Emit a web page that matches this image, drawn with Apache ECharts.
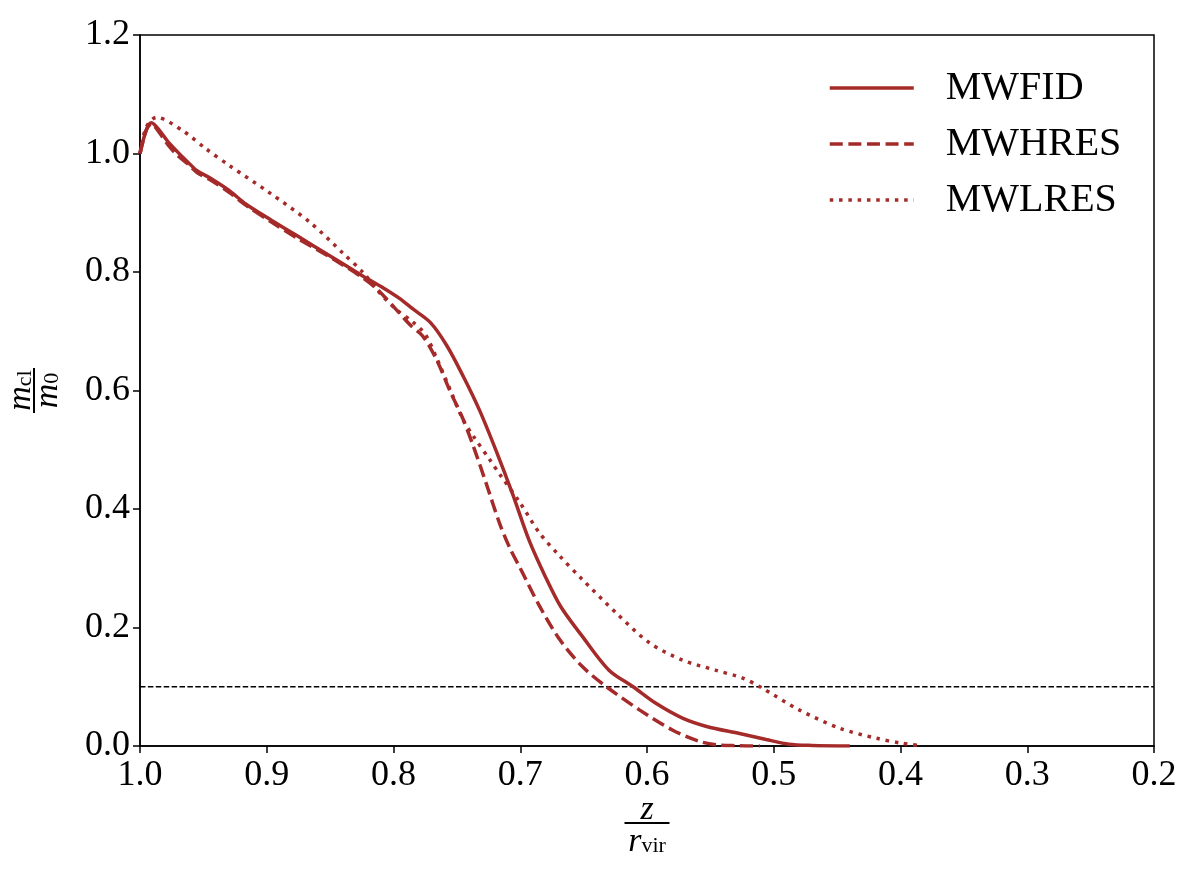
<!DOCTYPE html>
<html>
<head>
<meta charset="utf-8">
<script src="https://cdn.jsdelivr.net/npm/echarts@6/dist/echarts.min.js"></script>
<style>
html, body { margin: 0; padding: 0; background: #fff; }
#chart { width: 1196px; height: 890px; }
</style>
</head>
<body>
<div id="chart"></div>
<script>
var seriesNames = ['MWFID', 'MWHRES', 'MWLRES'];
var xTicks = [1.0, 0.9, 0.8, 0.7, 0.6, 0.5, 0.4, 0.3, 0.2];
var yTicks = [0.0, 0.2, 0.4, 0.6, 0.8, 1.0, 1.2];
var threshold = 0.1;

// MWFID (solid)
var fidX = [1.0, 0.995, 0.991, 0.985, 0.978, 0.971, 0.962, 0.955, 0.945, 0.930, 0.916, 0.896, 0.876, 0.850, 0.824, 0.808, 0.795, 0.785, 0.771, 0.758, 0.745, 0.732, 0.719, 0.706, 0.693, 0.680, 0.668, 0.651, 0.630, 0.611, 0.593, 0.572, 0.553, 0.527, 0.506, 0.488, 0.470, 0.440];
var fidY = [1.0, 1.040, 1.052, 1.040, 1.020, 1.004, 0.985, 0.971, 0.959, 0.938, 0.914, 0.887, 0.861, 0.827, 0.793, 0.773, 0.755, 0.738, 0.715, 0.676, 0.624, 0.566, 0.498, 0.425, 0.347, 0.285, 0.235, 0.185, 0.128, 0.100, 0.072, 0.047, 0.033, 0.021, 0.011, 0.003, 0.001, 0.0];

// MWHRES (dashed)
var hresX = [1.0, 0.995, 0.991, 0.985, 0.978, 0.971, 0.962, 0.955, 0.945, 0.930, 0.916, 0.896, 0.876, 0.850, 0.824, 0.813, 0.798, 0.787, 0.777, 0.766, 0.756, 0.745, 0.737, 0.727, 0.716, 0.708, 0.700, 0.685, 0.669, 0.651, 0.632, 0.606, 0.580, 0.559, 0.545, 0.530, 0.511];
var hresY = [1.0, 1.040, 1.050, 1.036, 1.015, 0.998, 0.982, 0.968, 0.956, 0.935, 0.912, 0.884, 0.857, 0.825, 0.790, 0.771, 0.737, 0.711, 0.692, 0.652, 0.602, 0.551, 0.506, 0.444, 0.374, 0.333, 0.300, 0.237, 0.180, 0.134, 0.100, 0.061, 0.027, 0.008, 0.002, 0.0005, 0.0];

// MWLRES (dotted)
var lresX = [1.0, 0.995, 0.987, 0.966, 0.948, 0.929, 0.898, 0.866, 0.840, 0.824, 0.811, 0.798, 0.785, 0.775, 0.766, 0.756, 0.745, 0.737, 0.724, 0.716, 0.700, 0.685, 0.669, 0.651, 0.624, 0.598, 0.572, 0.546, 0.525, 0.511, 0.480, 0.448, 0.419, 0.400, 0.383];
var lresY = [1.0, 1.045, 1.061, 1.038, 1.008, 0.979, 0.934, 0.884, 0.832, 0.799, 0.765, 0.737, 0.716, 0.695, 0.655, 0.605, 0.550, 0.523, 0.483, 0.458, 0.410, 0.360, 0.321, 0.281, 0.224, 0.174, 0.145, 0.128, 0.115, 0.100, 0.061, 0.030, 0.013, 0.005, 0.0];

var lineColor = '#a52a2a';
var font = 'Liberation Serif';

function pairs(xs, ys) {
    var out = [];
    for (var i = 0; i < xs.length; i++) {
        out.push([xs[i], ys[i]]);
    }
    return out;
}

var chart = echarts.init(document.getElementById('chart'));

// fraction labels: numerator row, bar row, denominator row
var xRich = {
    n: { fontFamily: font, fontStyle: 'italic', fontSize: 34, color: '#000', lineHeight: 22 },
    b: { width: 45, height: 2, backgroundColor: '#000', lineHeight: 4 },
    d: { fontFamily: font, fontStyle: 'italic', fontSize: 34, color: '#000', lineHeight: 36, verticalAlign: 'top' },
    s: { fontFamily: font, fontSize: 22, color: '#000', lineHeight: 36, verticalAlign: 'top', padding: [10, 0, 0, 0] }
};
var yRich = {
    n: { fontFamily: font, fontStyle: 'italic', fontSize: 34, color: '#000', lineHeight: 22 },
    ns: { fontFamily: font, fontSize: 22, color: '#000', lineHeight: 22, padding: [8, 0, 0, 0] },
    b: { width: 45, height: 2, backgroundColor: '#000', lineHeight: 4 },
    d: { fontFamily: font, fontStyle: 'italic', fontSize: 34, color: '#000', lineHeight: 24 },
    ds: { fontFamily: font, fontSize: 22, color: '#000', lineHeight: 24, padding: [8, 0, 0, 0] }
};

var option = {
    backgroundColor: '#fff',
    animation: false,
    grid: {
        left: 140,
        right: 42,
        top: 35,
        bottom: 144,
        containLabel: false,
        outerBoundsMode: 'none',
        show: true,
        borderColor: '#000',
        borderWidth: 1.5,
        backgroundColor: 'transparent'
    },
    legend: {
        orient: 'vertical',
        left: 828,
        top: 68,
        padding: 0,
        itemWidth: 84,
        itemHeight: 14,
        itemGap: 16,
        itemStyle: { opacity: 0 },
        lineStyle: { width: 3.5 },
        data: seriesNames,
        textStyle: {
            fontFamily: font,
            fontSize: 40,
            color: '#000',
            padding: [0, 0, 0, 27],
            lineHeight: 40
        }
    },
    xAxis: {
        type: 'value',
        inverse: true,
        min: xTicks[xTicks.length - 1],
        max: xTicks[0],
        interval: 0.1,
        splitLine: { show: false },
        axisLine: { onZero: false, lineStyle: { color: '#000', width: 1.5 } },
        axisTick: { show: true, length: 7, lineStyle: { color: '#000', width: 1.5 } },
        axisLabel: {
            margin: 12,
            fontFamily: font,
            fontSize: 36,
            color: '#000',
            formatter: function (v) { return v.toFixed(1); }
        },
        name: '{n|z}\n{b| }\n{d|r}{s|vir}',
        nameLocation: 'middle',
        nameGap: 53,
        nameMoveOverlap: false,
        nameTextStyle: { rich: xRich, align: 'center', verticalAlign: 'top' }
    },
    yAxis: {
        type: 'value',
        min: yTicks[0],
        max: yTicks[yTicks.length - 1],
        interval: 0.2,
        splitLine: { show: false },
        axisLine: { onZero: false, lineStyle: { color: '#000', width: 1.5 } },
        axisTick: { show: true, length: 7, lineStyle: { color: '#000', width: 1.5 } },
        axisLabel: {
            margin: 10,
            fontFamily: font,
            fontSize: 36,
            color: '#000',
            formatter: function (v) { return v.toFixed(1); }
        },
        name: '{n|m}{ns|cl}\n{b| }\n{d|m}{ds|0}',
        nameLocation: 'middle',
        nameRotate: 90,
        nameGap: 80,
        nameMoveOverlap: false,
        nameTextStyle: { rich: yRich, align: 'center' }
    },
    series: [{
        name: seriesNames[0],
        type: 'line',
        symbol: 'none',
        smooth: 0.3,
        data: pairs(fidX, fidY),
        lineStyle: { color: lineColor, width: 3.5, type: 'solid' },
        itemStyle: { color: lineColor },
        z: 3
    }, {
        name: seriesNames[1],
        type: 'line',
        symbol: 'none',
        smooth: 0.3,
        data: pairs(hresX, hresY),
        lineStyle: { color: lineColor, width: 3.5, type: [13, 5.6] },
        itemStyle: { color: lineColor },
        z: 3
    }, {
        name: seriesNames[2],
        type: 'line',
        symbol: 'none',
        smooth: 0.3,
        data: pairs(lresX, lresY),
        lineStyle: { color: lineColor, width: 3.5, type: [3.5, 5.8] },
        itemStyle: { color: lineColor },
        z: 3
    }, {
        name: 'threshold',
        type: 'line',
        symbol: 'none',
        silent: true,
        data: [[xTicks[0], threshold], [xTicks[xTicks.length - 1], threshold]],
        lineStyle: { color: '#000', width: 1.5, type: [5.5, 2.4] },
        itemStyle: { color: '#000' },
        z: 2
    }]
};

chart.setOption(option);
</script>
</body>
</html>
